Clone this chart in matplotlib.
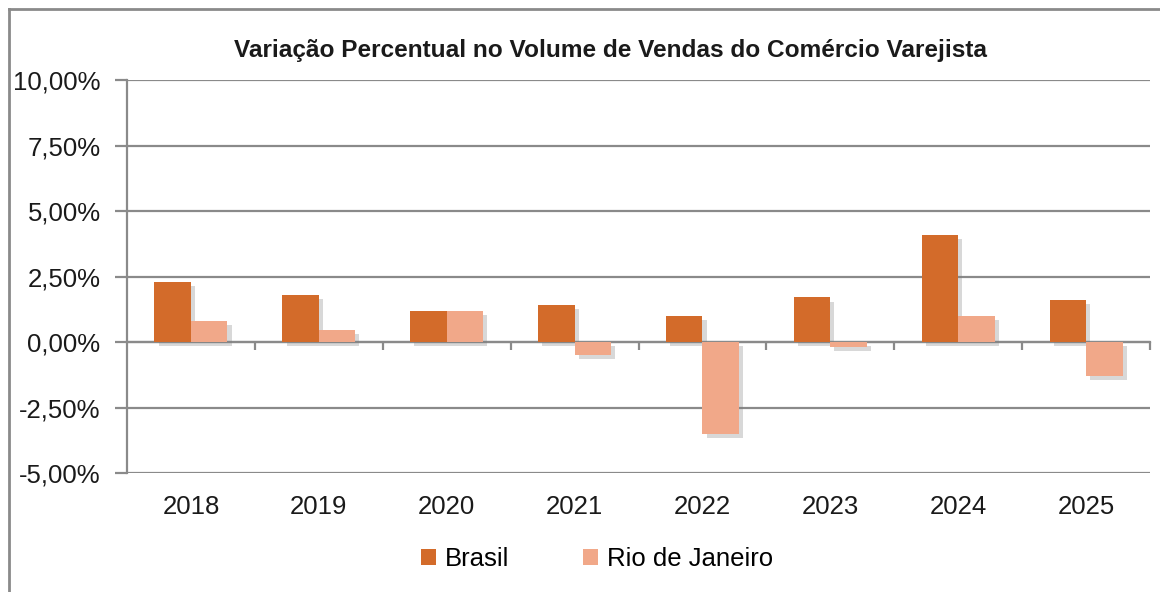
import matplotlib.pyplot as plt
import matplotlib.patheffects as pe
from matplotlib.lines import Line2D
from matplotlib.ticker import FuncFormatter
import numpy as np

anos = ['2018', '2019', '2020', '2021', '2022', '2023', '2024', '2025']
brasil = [2.3, 1.8, 1.2, 1.4, 1.0, 1.7, 4.1, 1.6]
rio = [0.8, 0.45, 1.2, -0.5, -3.5, -0.2, 1.0, -1.3]

cor_brasil = '#D36B2A'
cor_rio = '#F1A889'
cinza = '#8a8a8a'

plt.rcParams['font.family'] = ['Liberation Sans', 'DejaVu Sans']

fig = plt.figure(figsize=(11.6, 5.92), dpi=100)
ax = fig.add_axes([127/1160, 1 - 473/592, (1150 - 127)/1160, (473 - 80)/592])

x = np.arange(len(anos))
w = 0.285
sombra = [pe.SimplePatchShadow(offset=(3, -3), shadow_rgbFace='#808080', alpha=0.3), pe.Normal()]
b1 = ax.bar(x - w/2, brasil, w, color=cor_brasil, label='Brasil', zorder=3)
b2 = ax.bar(x + w/2, rio, w, color=cor_rio, label='Rio de Janeiro', zorder=3)
for b in list(b1) + list(b2):
    b.set_path_effects(sombra)

ax.set_xlim(-0.5, len(anos) - 0.5)
ax.set_ylim(-5, 10)
ax.set_yticks(np.arange(-5, 10.01, 2.5))
ax.yaxis.set_major_formatter(FuncFormatter(lambda v, p: f'{v:.2f}%'.replace('.', ',')))
ax.grid(axis='y', color=cinza, lw=1.6, zorder=1)
ax.set_axisbelow(True)

for s in ['top', 'right', 'bottom']:
    ax.spines[s].set_visible(False)
ax.spines['left'].set_color(cinza)
ax.spines['left'].set_linewidth(1.6)
ax.tick_params(axis='y', length=9, width=1.6, color=cinza, labelsize=18.5, pad=10, labelcolor='#1a1a1a')
ax.set_xticks(x)
ax.set_xticklabels(anos)
ax.tick_params(axis='x', length=0, labelsize=18.5, pad=16, labelcolor='#1a1a1a')

# eixo x na linha do zero, com marcas entre as categorias
sec = ax.secondary_xaxis(0, transform=ax.transData)
sec.set_xticks(x[:-1] + 0.5)
sec.set_xticks([len(anos) - 0.5], minor=True)
sec.tick_params(axis='x', which='both', direction='out', length=6, width=1.6, color=cinza, labelbottom=False)
sec.spines['bottom'].set_color(cinza)
sec.spines['bottom'].set_linewidth(1.6)

fig.text(610/1160, 1 - 50/592, 'Variação Percentual no Volume de Vendas do Comércio Varejista',
         ha='center', va='center', fontsize=17.6, fontweight='bold',
         family=['Liberation Sans Narrow', 'Liberation Sans'], color='#1a1a1a')

leg = fig.legend(handles=[b1, b2], loc='center', bbox_to_anchor=(597/1160, 1 - 559/592), ncol=2,
                 frameon=False, fontsize=18.5, handlelength=0.55, handleheight=0.55,
                 columnspacing=2.9, handletextpad=0.35)
for h in leg.legend_handles:
    h.set_path_effects([])

# moldura do gráfico
fig.add_artist(Line2D([9/1160, 1], [1 - 9/592, 1 - 9/592], color=cinza, lw=2))
fig.add_artist(Line2D([9/1160, 9/1160], [0, 1 - 9/592], color=cinza, lw=2))

fig.savefig('out.png', dpi=100)
